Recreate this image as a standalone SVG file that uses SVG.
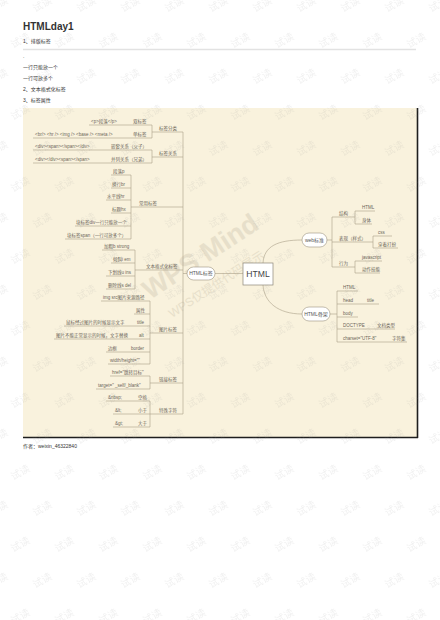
<svg xmlns="http://www.w3.org/2000/svg" width="440" height="620" viewBox="0 0 440 620">
<defs>
<style>
.doc{font-family:"Liberation Sans","Noto Sans CJK SC",sans-serif;fill:#333}
.t{font-family:"Liberation Sans","Noto Sans CJK SC",sans-serif;font-size:4.5px;fill:#6b6558}
.pt{font-family:"Liberation Sans","Noto Sans CJK SC",sans-serif;font-size:5px;fill:#555;text-anchor:middle}
.ln{stroke:#a99f88;stroke-width:0.6;fill:none}
.pill{fill:#fff;stroke:#9a9280;stroke-width:0.6}
.wm{font-family:"Noto Sans CJK SC",sans-serif;font-size:10px;fill:#888;opacity:0.13}
</style>
<pattern id="wmp" x="9" y="22" width="44" height="72" patternUnits="userSpaceOnUse">
<text class="wm" x="11" y="22" text-anchor="middle" transform="rotate(-30 11 18)">试读</text>
<text class="wm" x="33" y="58" text-anchor="middle" transform="rotate(-30 33 54)">试读</text>
</pattern>
</defs>
<rect width="440" height="620" fill="#fff"/>
<g id="header">
<text class="doc" x="23" y="30" font-size="10" font-weight="bold">HTMLday1</text>
<text class="doc" x="23" y="43" font-size="5">1、排版标签</text>
<line x1="23" y1="49.5" x2="416" y2="49.5" stroke="#e2e2e2" stroke-width="1.5"/>
<text class="doc" x="23" y="58" font-size="5">.</text>
<text class="doc" x="23" y="69" font-size="5">一行只能放一个</text>
<text class="doc" x="23" y="80" font-size="5">一行可放多个</text>
<text class="doc" x="23" y="91" font-size="5">2、文本格式化标签</text>
<text class="doc" x="23" y="102" font-size="5">3、标签属性</text>
</g>
<g id="canvas">
<rect x="23" y="108" width="395" height="330" fill="#f9f2dd"/>
<line x1="23" y1="437.5" x2="418" y2="437.5" stroke="#1e1e1e" stroke-width="1.6"/>
<line x1="417.5" y1="108" x2="417.5" y2="438" stroke="#1e1e1e" stroke-width="1.6"/>
<text x="150" y="300" transform="rotate(-33 150 300)" font-family="Liberation Sans,sans-serif" font-weight="bold" font-size="27" fill="#d6ceb8" opacity="0.5">WPS Mind</text>
<text x="172" y="318" transform="rotate(-33 172 318)" font-family="Liberation Sans,Noto Sans CJK SC,sans-serif" font-size="12" fill="#d6ceb8" opacity="0.5">WPS仅提供代码展示</text>
</g>
<g id="connectors">
<path class="ln" d="M187,273.5H183M183,132V414"/>
<path class="ln" d="M152,132H183M152,157H183M131,207H183M135,270H183M150,333H183M150,383H183M150,414H183"/>
<path class="ln" d="M152,125V138M152,150V163M131,175V239M135,250V289M150,301V364M150,376V389M150,401V427"/>
<path class="ln" d="M89,125H152M33,138H152M33,150H152M33,163H152"/>
<path class="ln" d="M111,175H131M111,188H131M106,200H131M111,213H131M75,226H131M65,239H131"/>
<path class="ln" d="M102,250H135M111,263H135M106,276H135M106,289H135"/>
<path class="ln" d="M101,301H150M134,314H150M64,326H150M54,339H150M106,352H150M108,364H150"/>
<path class="ln" d="M110,376H150M96,389H150M106,401H150M113,414H150M113,427H150"/>
<path class="ln" d="M215,273.5H243"/>
<path class="ln" d="M263,263C264,246 278,240 302,240"/>
<path class="ln" d="M263,285C264,302 278,314 302,314"/>
<path class="ln" d="M327,240H332M332,217V267M332,217H355M332,242H373M332,267H355"/>
<path class="ln" d="M355,211V224M355,211H375M355,224H372M373,236V248M373,236H392M373,248H398M355,261V273M355,261H382M355,273H380"/>
<path class="ln" d="M330,314H337M337,291V342M337,291H358M337,304H379M337,317H358M337,329H395M337,342H407"/>
</g>
<g id="node-html"><rect x="243" y="263" width="30" height="22" fill="#fff" stroke="#8c8678" stroke-width="0.7"/><text x="258" y="277.3" font-family="Liberation Sans,sans-serif" font-size="8.6" fill="#444" text-anchor="middle">HTML</text></g>
<g id="node-html-tags"><rect class="pill" x="187" y="267" width="28" height="13" rx="6.5"/><text class="pt" x="201" y="275.3">HTML标签</text></g>
<g id="node-web"><rect class="pill" x="302" y="233" width="25" height="14" rx="7"/><text class="pt" x="314.5" y="241.8">web标准</text></g>
<g id="node-skeleton"><rect class="pill" x="302" y="307" width="28" height="14" rx="7"/><text class="pt" x="316" y="315.8">HTML骨架</text></g>
<g id="left-l1">
<text class="t" x="159" y="130">标签分类</text>
<text class="t" x="159" y="155">标签关系</text>
<text class="t" x="139" y="205">常用标签</text>
<text class="t" x="146" y="268">文本格式化标签</text>
<text class="t" x="159" y="331">图片标签</text>
<text class="t" x="159" y="381">链接标签</text>
<text class="t" x="159" y="412">特殊字符</text>
</g>
<g id="left-l2">
<text class="t" x="91" y="123">&lt;p&gt;段落&lt;/p&gt;</text><text class="t" x="133" y="123">双标签</text>
<text class="t" x="35" y="136">&lt;br/&gt; &lt;hr /&gt; &lt;img /&gt; &lt;base /&gt; &lt;meta /&gt;</text><text class="t" x="133" y="136">单标签</text>
<text class="t" x="35" y="148">&lt;div&gt;&lt;span&gt;&lt;/span&gt;&lt;/div&gt;</text><text class="t" x="111" y="148">嵌套关系（父子）</text>
<text class="t" x="35" y="161">&lt;div&gt;&lt;/div&gt;&lt;span&gt;&lt;/span&gt;</text><text class="t" x="111" y="161">并列关系（兄弟）</text>
<text class="t" x="113" y="173">段落p</text>
<text class="t" x="112" y="186">换行br</text>
<text class="t" x="107" y="198">水平线hr</text>
<text class="t" x="112" y="211">标题hx</text>
<text class="t" x="76" y="224">块标签div一行只能放一个</text>
<text class="t" x="67" y="237">块标签span（一行可放多个）</text>
<text class="t" x="104" y="248">加粗b strong</text>
<text class="t" x="113" y="261">倾斜i em</text>
<text class="t" x="108" y="274">下划线u ins</text>
<text class="t" x="108" y="287">删除线s del</text>
<text class="t" x="103" y="299">img src图片来源路径</text>
<text class="t" x="136" y="312">属性</text>
<text class="t" x="66" y="324">鼠标经过图片的时候显示文字</text><text class="t" x="137" y="324">title</text>
<text class="t" x="56" y="337">图片不能正常显示的时候，文字替换</text><text class="t" x="139" y="337">alt</text>
<text class="t" x="108" y="350">边框</text><text class="t" x="131" y="350">border</text>
<text class="t" x="110" y="362">width/height=""</text>
<text class="t" x="112" y="374">href="跳转目标"</text>
<text class="t" x="98" y="387">target=" _self/_blank"</text>
<text class="t" x="108" y="399">&amp;nbsp;</text><text class="t" x="138" y="399">空格</text>
<text class="t" x="115" y="412">&amp;lt;</text><text class="t" x="138" y="412">小于</text>
<text class="t" x="115" y="425">&amp;gt;</text><text class="t" x="138" y="425">大于</text>
</g>
<g id="right-nodes">
<text class="t" x="339" y="215">结构</text>
<text class="t" x="362" y="209">HTML</text>
<text class="t" x="362" y="222">身体</text>
<text class="t" x="339" y="240">表现（样式）</text>
<text class="t" x="378" y="234">css</text>
<text class="t" x="378" y="246">穿着打扮</text>
<text class="t" x="339" y="265">行为</text>
<text class="t" x="362" y="259">javascript</text>
<text class="t" x="362" y="271">动作技能</text>
<text class="t" x="343" y="289">HTML</text>
<text class="t" x="343" y="302">head</text><text class="t" x="367" y="302">title</text>
<text class="t" x="343" y="315">body</text>
<text class="t" x="343" y="327">DOCTYPE</text><text class="t" x="377" y="327">文档类型</text>
<text class="t" x="343" y="340">charset="UTF-8"</text><text class="t" x="392" y="340">字符集</text>
</g>
<g id="footer"><text class="doc" x="23" y="448" font-size="5">作者：weixin_46322840</text></g>
<rect width="440" height="620" fill="url(#wmp)"/>
</svg>
